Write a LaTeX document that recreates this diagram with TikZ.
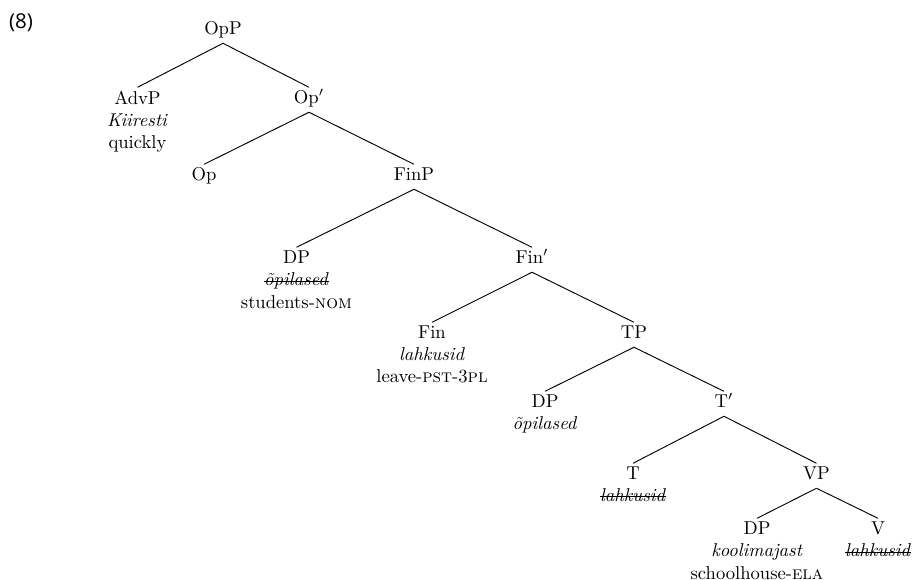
\documentclass[tikz,border=0pt]{standalone}
\usepackage{fontspec}
\newfontfamily\exfont{Open Sans}

\newsavebox\strikebox
\newcommand{\struck}[1]{\sbox\strikebox{#1}\rlap{\usebox\strikebox}\rule[0.55ex]{\wd\strikebox}{0.4pt}}

\tikzset{every picture/.style={line width=0.5pt}}
\tikzset{cat/.style={anchor=north, inner xsep=2pt, inner ysep=1.6pt, text height=6.83pt, text depth=2.9pt},
	leaf/.style={align=center, anchor=north, inner xsep=2pt, inner ysep=1.6pt}}

\begin{document}
\begin{tikzpicture}[x=0.538pt,y=0.538pt,yscale=-1,xscale=1]
		\useasboundingbox (0,0) rectangle (914,580);

		\draw (21,23) node (exno) {\exfont\fontsize{11}{13}\selectfont (8)};

		\draw (223,18.3) node [cat] (opp) {OpP};
		\draw (137.5,87.3) node [leaf] (advp) {AdvP\\\textit{Kiiresti}\\quickly};
		\draw (309,87.3) node [cat] (opbar) {Op$'$};
		\draw (204,164.3) node [cat] (op) {Op};
		\draw (414,164.3) node [cat] (finp) {FinP};
		\draw (296.5,247.3) node [leaf] (dpsubj) {DP\\\struck{\textit{õpilased}}\\students-\textsc{nom}};
		\draw (532,247.3) node [cat] (finbar) {Fin$'$};
		\draw (432,322.3) node [leaf] (fin) {Fin\\\textit{lahkusid}\\leave-\textsc{pst}-3\textsc{pl}};
		\draw (634,322.3) node [cat] (tp) {TP};
		\draw (545,391.3) node [leaf] (dpspec) {DP\\\textit{õpilased}};
		\draw (724,391.3) node [cat] (tbar) {T$'$};
		\draw (633,463.3) node [leaf] (t) {T\\\struck{\textit{lahkusid}}};
		\draw (816.5,463.3) node [cat] (vp) {VP};
		\draw (757,518.3) node [leaf] (dpobj) {DP\\\textit{koolimajast}\\schoolhouse-\textsc{ela}};
		\draw (878,518.3) node [leaf] (v) {V\\\struck{\textit{lahkusid}}};

		\draw (opp.south) -- (advp.north);
		\draw (opp.south) -- (opbar.north);
		\draw (opbar.south) -- (op.north);
		\draw (opbar.south) -- (finp.north);
		\draw (finp.south) -- (dpsubj.north);
		\draw (finp.south) -- (finbar.north);
		\draw (finbar.south) -- (fin.north);
		\draw (finbar.south) -- (tp.north);
		\draw (tp.south) -- (dpspec.north);
		\draw (tp.south) -- (tbar.north);
		\draw (tbar.south) -- (t.north);
		\draw (tbar.south) -- (vp.north);
		\draw (vp.south) -- (dpobj.north);
		\draw (vp.south) -- (v.north);

		\end{tikzpicture}
\end{document}
